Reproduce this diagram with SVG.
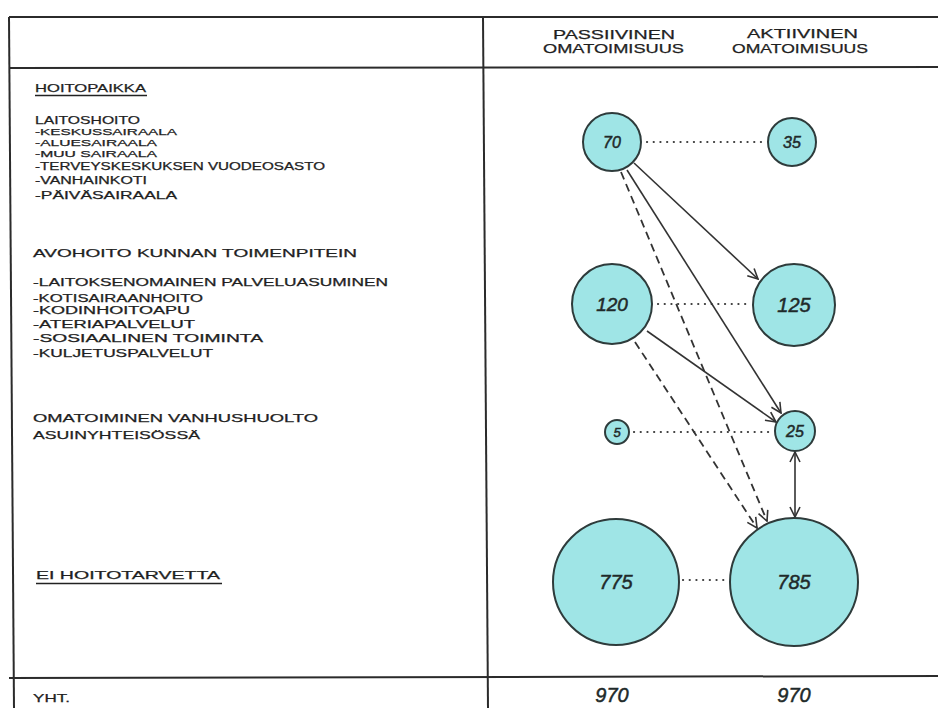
<svg xmlns="http://www.w3.org/2000/svg" width="938" height="708" viewBox="0 0 938 708">
  <defs>
    <style>
      .frame { stroke: #2b2b2b; stroke-width: 2; fill: none; }
      .lbl { font-family: "Liberation Sans", Arial, sans-serif; font-size: 11px; fill: #1f1f1f; stroke: #1f1f1f; stroke-width: 0.25; }
      .item { font-size: 10px; }
      .tight { font-size: 9px; }
      .head { font-family: "Liberation Sans", Arial, sans-serif; font-size: 13px; fill: #1f1f1f; stroke: #1f1f1f; stroke-width: 0.25; }
      .node circle { fill: #9fe5e6; stroke: #2e3b3b; stroke-width: 2; }
      .num { font-family: "Liberation Sans", Arial, sans-serif; font-style: italic; fill: #1f2a2a; stroke: #1f2a2a; stroke-width: 0.5; text-anchor: middle; }
      .dot { stroke: #3a3a3a; stroke-width: 2.2; stroke-linecap: round; stroke-dasharray: 0.1 6.6; fill: none; }
      .solid { stroke: #333; stroke-width: 1.6; fill: none; }
      .dash { stroke: #333; stroke-width: 1.8; stroke-dasharray: 8 5; fill: none; }
    </style>
    <marker id="arrow" viewBox="0 0 12 12" refX="11" refY="6" markerWidth="12" markerHeight="12" markerUnits="userSpaceOnUse" orient="auto-start-reverse">
      <path d="M1,1 L11,6 L1,11" fill="none" stroke="#333" stroke-width="1.6"/>
    </marker>
  </defs>

  <rect x="0" y="0" width="938" height="708" fill="#ffffff"/>

  <!-- table frame -->
  <g id="table">
    <line class="frame" x1="9" y1="17" x2="938" y2="17"/>
    <line class="frame" x1="9" y1="68" x2="938" y2="67"/>
    <line class="frame" x1="9" y1="678" x2="938" y2="676"/>
    <line class="frame" x1="9" y1="17" x2="14" y2="708"/>
    <line class="frame" x1="483" y1="17" x2="488" y2="708"/>
  </g>

  <!-- column headings -->
  <g id="headings">
    <text class="head" x="553" y="39" textLength="122" lengthAdjust="spacingAndGlyphs">PASSIIVINEN</text>
    <text class="head" x="543" y="53" textLength="141" lengthAdjust="spacingAndGlyphs">OMATOIMISUUS</text>
    <text class="head" x="747" y="38" textLength="111" lengthAdjust="spacingAndGlyphs">AKTIIVINEN</text>
    <text class="head" x="732" y="53" textLength="136" lengthAdjust="spacingAndGlyphs">OMATOIMISUUS</text>
  </g>

  <!-- row labels -->
  <g id="labels">
    <text class="lbl" x="35" y="92" textLength="111" lengthAdjust="spacingAndGlyphs">HOITOPAIKKA</text>
    <line x1="35" y1="95.5" x2="147" y2="95.5" stroke="#222" stroke-width="1.5"/>

    <text class="lbl" x="35" y="124" textLength="105" lengthAdjust="spacingAndGlyphs">LAITOSHOITO</text>
    <text class="lbl tight" x="35" y="135" textLength="142" lengthAdjust="spacingAndGlyphs">-KESKUSSAIRAALA</text>
    <text class="lbl tight" x="35" y="146" textLength="122" lengthAdjust="spacingAndGlyphs">-ALUESAIRAALA</text>
    <text class="lbl tight" x="35" y="157" textLength="122" lengthAdjust="spacingAndGlyphs">-MUU SAIRAALA</text>
    <text class="lbl item" x="35" y="170" textLength="290" lengthAdjust="spacingAndGlyphs">-TERVEYSKESKUKSEN  VUODEOSASTO</text>
    <text class="lbl item" x="35" y="184" textLength="112" lengthAdjust="spacingAndGlyphs">-VANHAINKOTI</text>
    <text class="lbl item" x="35" y="199" textLength="142" lengthAdjust="spacingAndGlyphs">-PÄIVÄSAIRAALA</text>

    <text class="lbl" x="33" y="257" textLength="324" lengthAdjust="spacingAndGlyphs">AVOHOITO  KUNNAN  TOIMENPITEIN</text>
    <text class="lbl item" x="33" y="286" textLength="355" lengthAdjust="spacingAndGlyphs">-LAITOKSENOMAINEN  PALVELUASUMINEN</text>
    <text class="lbl item" x="33" y="302" textLength="170" lengthAdjust="spacingAndGlyphs">-KOTISAIRAANHOITO</text>
    <text class="lbl item" x="33" y="314" textLength="157" lengthAdjust="spacingAndGlyphs">-KODINHOITOAPU</text>
    <text class="lbl item" x="33" y="328" textLength="162" lengthAdjust="spacingAndGlyphs">-ATERIAPALVELUT</text>
    <text class="lbl item" x="33" y="342" textLength="230" lengthAdjust="spacingAndGlyphs">-SOSIAALINEN  TOIMINTA</text>
    <text class="lbl item" x="33" y="357" textLength="180" lengthAdjust="spacingAndGlyphs">-KULJETUSPALVELUT</text>

    <text class="lbl" x="33" y="422" textLength="285" lengthAdjust="spacingAndGlyphs">OMATOIMINEN  VANHUSHUOLTO</text>
    <text class="lbl" x="33" y="439" textLength="167" lengthAdjust="spacingAndGlyphs">ASUINYHTEISÖSSÄ</text>

    <text class="lbl" x="36" y="579" textLength="184" lengthAdjust="spacingAndGlyphs">EI  HOITOTARVETTA</text>
    <line x1="36" y1="583.5" x2="222" y2="583.5" stroke="#222" stroke-width="1.5"/>

    <text class="lbl" x="33" y="702" textLength="37" lengthAdjust="spacingAndGlyphs">YHT.</text>
  </g>

  <!-- connectors -->
  <g id="connectors">
    <line class="dot" x1="647" y1="142" x2="762" y2="142"/>
    <line class="dot" x1="658" y1="304" x2="749" y2="304"/>
    <line class="dot" x1="634" y1="432" x2="772" y2="432"/>
    <line class="dot" x1="683" y1="580" x2="725" y2="580"/>

    <line class="solid" x1="634" y1="163" x2="758" y2="279" marker-end="url(#arrow)"/>
    <line class="solid" x1="627" y1="170" x2="781" y2="413" marker-end="url(#arrow)"/>
    <line class="solid" x1="647" y1="331" x2="776" y2="422" marker-end="url(#arrow)"/>

    <line class="dash" x1="621" y1="172" x2="767" y2="521" marker-end="url(#arrow)"/>
    <line class="dash" x1="635" y1="342" x2="757" y2="528" marker-end="url(#arrow)"/>

    <line class="solid" x1="795" y1="452" x2="795" y2="517" marker-start="url(#arrow)" marker-end="url(#arrow)"/>
  </g>

  <!-- nodes -->
  <g id="n70" class="node">
    <circle cx="612" cy="142" r="29"/>
    <text class="num" x="612" y="148" font-size="16">70</text>
  </g>
  <g id="n35" class="node">
    <circle cx="792" cy="142" r="24"/>
    <text class="num" x="792" y="148" font-size="16">35</text>
  </g>
  <g id="n120" class="node">
    <circle cx="612" cy="304" r="40"/>
    <text class="num" x="612" y="311" font-size="19">120</text>
  </g>
  <g id="n125" class="node">
    <circle cx="794" cy="305" r="41"/>
    <text class="num" x="794" y="312" font-size="20">125</text>
  </g>
  <g id="n5" class="node">
    <circle cx="617" cy="432" r="12"/>
    <text class="num" x="617" y="437" font-size="13">5</text>
  </g>
  <g id="n25" class="node">
    <circle cx="795" cy="431" r="20"/>
    <text class="num" x="795" y="437" font-size="16">25</text>
  </g>
  <g id="n775" class="node">
    <circle cx="616" cy="582" r="63"/>
    <text class="num" x="616" y="589" font-size="20">775</text>
  </g>
  <g id="n785" class="node">
    <circle cx="794" cy="582" r="64"/>
    <text class="num" x="794" y="589" font-size="20">785</text>
  </g>

  <!-- column totals -->
  <g id="totals">
    <text class="num" x="612" y="702" font-size="20">970</text>
    <text class="num" x="794" y="702" font-size="20">970</text>
  </g>
</svg>
